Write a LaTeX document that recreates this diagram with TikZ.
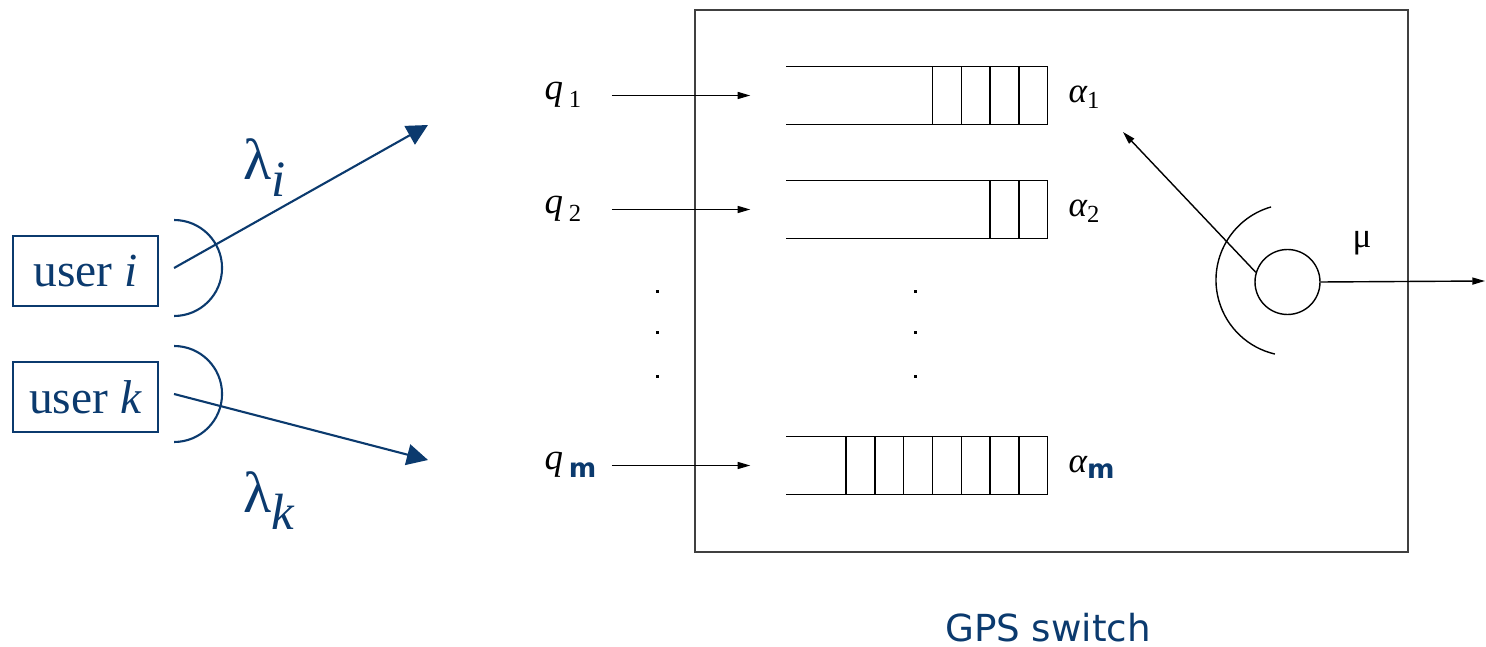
\documentclass[tikz,border=0pt]{standalone}
\usepackage{fontspec}
\setmainfont{Liberation Serif}
\newfontfamily\gpsfont{DejaVu Sans}
\usepackage{tikz}
\usetikzlibrary{positioning,arrows.meta}
\definecolor{slideblue}{HTML}{0B3A6E}

\newcommand\lamsub[1]{{\fontsize{16.5}{16}\selectfont λ}\raisebox{-4.8pt}{\fontsize{14.5}{14}\selectfont\itshape #1}}
\newcommand\qsub[1]{{\itshape q}\hspace{1.6pt}\raisebox{-2pt}{\fontsize{7}{7}\selectfont #1}}
\newcommand\asub[1]{{\itshape α}\raisebox{-1.6pt}{\fontsize{7}{7}\selectfont #1}}
\newcommand\bluem{{\gpsfont\bfseries\fontsize{7.5}{7}\selectfont\color{slideblue}m}}

\begin{document}
\begin{tikzpicture}[
  userbox/.style={draw=slideblue, line width=0.6pt, minimum width=1.45cm, minimum height=0.70cm, inner sep=0pt, font=\fontsize{13.5}{14}\selectfont, text=slideblue},
  flowarrow/.style={draw=slideblue, line width=0.6pt, -{Triangle[length=6pt,width=6pt]}},
  lamlabel/.style={text=slideblue, inner sep=0pt, anchor=base west},
  qlabel/.style={font=\fontsize{10.5}{10}\selectfont, inner sep=0pt, anchor=base west},
  alabel/.style={font=\fontsize{10}{10}\selectfont, inner sep=0pt, anchor=base west},
  queuebox/.style={minimum width=2.60cm, minimum height=0.57cm, inner sep=0pt},
  feed/.style={line width=0.4pt, -{Triangle[length=3.6pt,width=2pt]}},
  switchbox/.style={draw=black!75, line width=0.6pt, minimum width=7.13cm, minimum height=5.42cm},
]
  \useasboundingbox (0,0) rectangle (14.86,-6.47);

  % Users
  \node[userbox] (useri) at (0.855,-2.71) {user \textit{i}};
  \node[userbox] (userk) at (0.855,-3.97) {user \textit{k}};

  % Antennas
  \draw[slideblue, line width=0.6pt] ([xshift=0.15cm,yshift=0.51cm]useri.east) arc[start angle=90, end angle=-90, radius=0.48];
  \draw[slideblue, line width=0.6pt] ([xshift=0.15cm,yshift=0.51cm]userk.east) arc[start angle=90, end angle=-90, radius=0.48];

  % Flows
  \coordinate (toi) at (4.28,-1.25);
  \coordinate (tok) at (4.28,-4.60);
  \draw[flowarrow] ([xshift=0.15cm,yshift=0.03cm]useri.east) -- (toi);
  \draw[flowarrow] ([xshift=0.15cm,yshift=0.03cm]userk.east) -- (tok);
  \node[lamlabel] (lami) at (2.43,-1.80) {\lamsub{i}};
  \node[lamlabel] (lamk) at (2.43,-5.13) {\lamsub{k}};

  % Switch
  \node[switchbox] (switch) at (10.515,-2.81) {};
  \node[text=slideblue, font=\gpsfont\fontsize{10.6}{12}\selectfont, anchor=base] (gpslabel) at (10.48,-6.42) {GPS switch};

  % Queues
  \foreach \name/\yy/\cells in {Q1/0.955/4, Q2/2.095/2, Qm/4.655/7} {
    \node[queuebox] (\name) at (9.17,-\yy) {};
    \draw[line width=0.4pt] (\name.north west) -- (\name.north east) -- (\name.south east) -- (\name.south west);
    \foreach \k in {1,...,\cells}
      \draw[line width=0.4pt] ([xshift=-\k*0.288cm]\name.north east) -- ([xshift=-\k*0.288cm]\name.south east);
  }

  % Queue labels
  \node[qlabel] (q1) at (5.44,-1.00) {\qsub{1}};
  \node[qlabel] (q2) at (5.44,-2.14) {\qsub{2}};
  \node[qlabel] (qm) at (5.44,-4.70) {\qsub{\bluem}};
  \node[alabel] (a1) at (10.68,-1.025) {\asub{1}};
  \node[alabel] (a2) at (10.68,-2.165) {\asub{2}};
  \node[alabel] (am) at (10.68,-4.725) {\asub{\bluem}};

  % Arrivals
  \draw[feed, shorten <=0.30cm, shorten >=0.36cm] (Q1.west -| q1.east) -- (Q1.west);
  \draw[feed, shorten <=0.30cm, shorten >=0.36cm] (Q2.west -| q2.east) -- (Q2.west);
  \draw[feed, shorten <=0.15cm, shorten >=0.36cm] (Qm.west -| qm.east) -- (Qm.west);

  % Dots
  \foreach \yy in {2.92,3.33,3.77} {
    \fill (6.555,-\yy+0.015) rectangle ++(0.03,-0.03);
    \fill (9.135,-\yy+0.015) rectangle ++(0.03,-0.03);
  }

  % Server
  \node[circle, draw, line width=0.4pt, minimum size=0.65cm, inner sep=0pt] (server) at (12.875,-2.82) {};
  \draw[line width=0.4pt] ([shift={(106:0.76)}]12.92,-2.80) arc[start angle=106, end angle=257, radius=0.76];
  \coordinate (weight) at (11.23,-1.32);
  \coordinate (out) at (14.85,-2.81);
  \draw[feed] (server.163) -- (weight);
  \draw[feed] (server.east) -- (out);
  \node[font=\fontsize{10}{10}\selectfont, inner sep=0pt] (mu) at (13.62,-2.43) {μ};

\end{tikzpicture}
\end{document}
